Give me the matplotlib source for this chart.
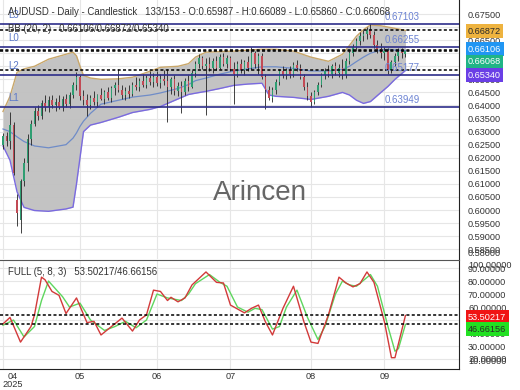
import matplotlib
matplotlib.use("Agg")
import matplotlib.pyplot as plt
import matplotlib.transforms as mtransforms
import numpy as np
import pandas as pd

plt.rcParams['font.family'] = ['Liberation Sans', 'DejaVu Sans']

# ── data ─────────────────────────────────────────────────────────────────────
dates = pd.bdate_range("2025-04-01", periods=116)

opens = [0.6250, 0.6285, 0.6265, 0.6325, 0.6040, 0.5960, 0.6110, 0.6180, 0.6270, 0.6330,
         0.6380, 0.6360, 0.6410, 0.6395, 0.6420, 0.6400, 0.6415, 0.6395, 0.6425, 0.6405,
         0.6440, 0.6480, 0.6510, 0.6435, 0.6420, 0.6400, 0.6430, 0.6415, 0.6440, 0.6425,
         0.6450, 0.6430, 0.6465, 0.6480, 0.6460, 0.6440, 0.6455, 0.6445, 0.6480, 0.6470,
         0.6495, 0.6480, 0.6505, 0.6490, 0.6510, 0.6485, 0.6500, 0.6495, 0.6470, 0.6500,
         0.6455, 0.6475, 0.6450, 0.6495, 0.6470, 0.6525, 0.6560, 0.6580, 0.6550, 0.6560,
         0.6545, 0.6570, 0.6545, 0.6585, 0.6560, 0.6580, 0.6540, 0.6520, 0.6560, 0.6535,
         0.6565, 0.6545, 0.6600, 0.6560, 0.6590, 0.6510, 0.6460, 0.6430, 0.6460, 0.6490,
         0.6530, 0.6515, 0.6535, 0.6520, 0.6555, 0.6545, 0.6510, 0.6470, 0.6435, 0.6415,
         0.6450, 0.6480, 0.6515, 0.6530, 0.6520, 0.6550, 0.6525, 0.6545, 0.6515, 0.6570,
         0.6600, 0.6625, 0.6645, 0.6665, 0.6675, 0.6690, 0.6670, 0.6630, 0.6615, 0.6600,
         0.6610, 0.6535, 0.6565, 0.6590, 0.6605, 0.65987]
highs = [0.6295, 0.6300, 0.6375, 0.6335, 0.6060, 0.6120, 0.6200, 0.6290, 0.6345, 0.6395,
         0.6400, 0.6420, 0.6440, 0.6435, 0.6440, 0.6430, 0.6440, 0.6435, 0.6445, 0.6450,
         0.6490, 0.6527, 0.6515, 0.6460, 0.6445, 0.6440, 0.6455, 0.6445, 0.6465, 0.6460,
         0.6470, 0.6475, 0.6490, 0.6538, 0.6480, 0.6470, 0.6480, 0.6490, 0.6510, 0.6505,
         0.6520, 0.6515, 0.6530, 0.6525, 0.6530, 0.6520, 0.6535, 0.6540, 0.6510, 0.6515,
         0.6490, 0.6495, 0.6505, 0.6515, 0.6535, 0.6570, 0.6596, 0.6590, 0.6580, 0.6585,
         0.6580, 0.6590, 0.6596, 0.6600, 0.6595, 0.6590, 0.6565, 0.6570, 0.6578, 0.6575,
         0.6590, 0.6623, 0.6610, 0.6600, 0.6600, 0.6520, 0.6475, 0.6470, 0.6500, 0.6540,
         0.6550, 0.6545, 0.6550, 0.6565, 0.6575, 0.6560, 0.6520, 0.6490, 0.6450, 0.6460,
         0.6490, 0.6525, 0.6545, 0.6555, 0.6560, 0.6565, 0.6560, 0.6578, 0.6580, 0.6610,
         0.6635, 0.6660, 0.6680, 0.6690, 0.6700, 0.6710, 0.6685, 0.6650, 0.6640, 0.6625,
         0.6620, 0.6575, 0.6600, 0.6620, 0.6620, 0.66089]
lows = [0.6235, 0.6245, 0.6232, 0.6135, 0.5940, 0.5913, 0.6090, 0.6150, 0.6250, 0.6320,
        0.6345, 0.6350, 0.6380, 0.6375, 0.6390, 0.6380, 0.6385, 0.6378, 0.6395, 0.6390,
        0.6430, 0.6460, 0.6420, 0.6400, 0.6358, 0.6385, 0.6400, 0.6395, 0.6420, 0.6405,
        0.6420, 0.6415, 0.6440, 0.6450, 0.6425, 0.6420, 0.6430, 0.6435, 0.6460, 0.6455,
        0.6470, 0.6465, 0.6480, 0.6470, 0.6475, 0.6465, 0.6480, 0.6335, 0.6445, 0.6440,
        0.6435, 0.6370, 0.6440, 0.6455, 0.6465, 0.6510, 0.6545, 0.6540, 0.6365, 0.6530,
        0.6525, 0.6535, 0.6540, 0.6550, 0.6545, 0.6530, 0.6404, 0.6510, 0.6525, 0.6515,
        0.6530, 0.6535, 0.6545, 0.6520, 0.6500, 0.6385, 0.6420, 0.6415, 0.6445, 0.6480,
        0.6505, 0.6500, 0.6505, 0.6510, 0.6530, 0.6500, 0.6460, 0.6420, 0.6396, 0.6405,
        0.6440, 0.6470, 0.6500, 0.6510, 0.6505, 0.6515, 0.6510, 0.6500, 0.6505, 0.6560,
        0.6590, 0.6610, 0.6630, 0.6645, 0.6655, 0.6660, 0.6620, 0.6600, 0.6580, 0.6575,
        0.6520, 0.6525, 0.6550, 0.6570, 0.6580, 0.65860]
closes = [0.6285, 0.6265, 0.6325, 0.6140, 0.5990, 0.6110, 0.6180, 0.6270, 0.6330, 0.6380,
          0.6360, 0.6410, 0.6395, 0.6420, 0.6400, 0.6415, 0.6395, 0.6425, 0.6405, 0.6440,
          0.6480, 0.6510, 0.6435, 0.6420, 0.6400, 0.6430, 0.6415, 0.6440, 0.6425, 0.6450,
          0.6430, 0.6465, 0.6480, 0.6460, 0.6440, 0.6455, 0.6445, 0.6480, 0.6470, 0.6495,
          0.6480, 0.6505, 0.6490, 0.6510, 0.6485, 0.6500, 0.6495, 0.6470, 0.6500, 0.6455,
          0.6475, 0.6450, 0.6495, 0.6470, 0.6525, 0.6560, 0.6580, 0.6550, 0.6560, 0.6545,
          0.6570, 0.6545, 0.6585, 0.6560, 0.6580, 0.6540, 0.6520, 0.6560, 0.6535, 0.6565,
          0.6545, 0.6600, 0.6560, 0.6590, 0.6510, 0.6460, 0.6430, 0.6460, 0.6490, 0.6530,
          0.6515, 0.6535, 0.6520, 0.6555, 0.6545, 0.6510, 0.6470, 0.6435, 0.6415, 0.6450,
          0.6480, 0.6515, 0.6530, 0.6520, 0.6550, 0.6525, 0.6545, 0.6515, 0.6570, 0.6600,
          0.6625, 0.6645, 0.6665, 0.6675, 0.6690, 0.6670, 0.6630, 0.6615, 0.6600, 0.6610,
          0.6535, 0.6565, 0.6590, 0.6605, 0.6599, 0.66068]

# Bollinger (20, 2) band values, sampled along the series (candle number -> value)
bb_idx = [0, 2, 4, 6, 9, 13, 18, 20, 21, 22, 23, 25, 28, 33, 37, 42, 45, 50, 53, 55,
          58, 62, 66, 70, 74, 76, 78, 83, 88, 93, 97, 99, 101, 103, 105, 108, 110, 112, 115]
bb_upper = [0.6377, 0.6435, 0.6527, 0.6540, 0.6550, 0.6577, 0.6596, 0.6604, 0.6590, 0.6550,
            0.6515, 0.6505, 0.6500, 0.6502, 0.6508, 0.6531, 0.6546, 0.6550, 0.6560, 0.6585,
            0.6604, 0.6606, 0.6608, 0.6612, 0.6615, 0.6615, 0.6615, 0.6608, 0.6585, 0.6569,
            0.6596, 0.6630, 0.6665, 0.6690, 0.6708, 0.6705, 0.6700, 0.6695, 0.66872]
bb_mid = [0.6310, 0.6300, 0.6280, 0.6262, 0.6245, 0.6238, 0.6250, 0.6275, 0.6295, 0.6320,
          0.6340, 0.6370, 0.6405, 0.6420, 0.6432, 0.6440, 0.6448, 0.6465, 0.6480, 0.6495,
          0.6505, 0.6520, 0.6532, 0.6540, 0.6548, 0.6548, 0.6548, 0.6542, 0.6532, 0.6532,
          0.6538, 0.6550, 0.6568, 0.6585, 0.6600, 0.6612, 0.6615, 0.6612, 0.66106]
bb_lower = [0.6245, 0.6190, 0.6070, 0.6010, 0.5998, 0.5995, 0.6004, 0.6011, 0.6100, 0.6200,
            0.6300, 0.6325, 0.6335, 0.6355, 0.6373, 0.6385, 0.6396, 0.6425, 0.6442, 0.6447,
            0.6454, 0.6465, 0.6477, 0.6482, 0.6485, 0.6440, 0.6435, 0.6431, 0.6423, 0.6435,
            0.6450, 0.6440, 0.6420, 0.6408, 0.6415, 0.6450, 0.6473, 0.6500, 0.65340]

# Full stochastic (5, 8, 3)
k_idx = [0, 2, 5, 8, 9, 11, 12, 14, 16, 18, 21, 24, 26, 28, 31, 34, 37, 39, 41, 43,
         45, 47, 48, 50, 52, 54, 58, 61, 63, 65, 69, 71, 73, 75, 77, 80, 83, 86, 88, 90,
         93, 96, 98, 100, 102, 104, 106, 109, 111, 112, 115]
k_vals = [47, 52, 33, 45, 54, 83, 81, 72, 69, 55, 67, 48, 49, 38.5, 45, 51.5, 41.5, 50, 54, 73,
          72, 65, 67.5, 64, 67, 77, 87, 79, 78.5, 61.5, 55.5, 59, 61.5, 48.5, 38.5, 59, 76, 48.5, 33, 32,
          54, 83, 78.5, 75.5, 78, 87, 79, 48.5, 21, 21, 53.50217]
d_idx = [0, 3, 6, 9, 11, 13, 15, 17, 19, 22, 25, 29, 32, 35, 38, 41, 44, 47, 49, 51,
         53, 55, 59, 62, 64, 67, 70, 72, 74, 77, 79, 81, 84, 87, 90, 92, 95, 97, 99, 101,
         105, 107, 110, 112, 113, 115]
d_vals = [46, 50, 37, 45, 65, 80, 74, 68, 60, 63, 50, 42, 45, 49, 44, 50, 70, 67, 66, 65,
          70, 78, 85, 79, 76, 60, 56, 59, 58, 43, 45, 60, 73, 52, 35, 45, 70, 80, 77, 76,
          85, 76, 45, 26, 28, 46.66156]

level_names = ["L3", "L0", "L2", "L1"]
level_values = [0.67103, 0.66255, 0.65177, 0.63949]

bb_last = [0.66106, 0.66872, 0.65340]
stoch_last = [53.50217, 46.66156]

W, H = 520, 390


def fx(px):
    return px / W


def fy(py):
    return 1 - py / H


fig = plt.figure(figsize=(W / 100, H / 100), dpi=100)
ax = fig.add_axes([0, fy(259), fx(459), 259 / H])
ax2 = fig.add_axes([0, fy(369), fx(459), 109 / H], sharex=ax)

x = np.arange(len(closes))
month_pos = [i for i in range(len(dates)) if i == 0 or dates[i].month != dates[i - 1].month]
month_lab = [dates[i].strftime("%m") for i in month_pos]
month_lab[0] = month_lab[0] + "\n" + dates[0].strftime("%Y")

grid_c = "#e6e6e6"
lab_c = "#333333"
tick_fs = 6.6
head_fs = 6.9

# ── price panel ─────────────────────────────────────────────────────────────
ax.fill_between(bb_idx, bb_lower, bb_upper, color="#c0c0c0", alpha=0.95, lw=0, zorder=1)
ax.plot(bb_idx, bb_upper, color="#c9a76a", lw=1.0, zorder=2)
ax.plot(bb_idx, bb_lower, color="#7a6ae0", lw=1.0, zorder=2)
ax.plot(bb_idx, bb_mid, color="#6f8cc8", lw=0.9, zorder=2)

up = np.array(closes) >= np.array(opens)
body_lo = np.minimum(opens, closes)
body_h = np.abs(np.array(closes) - np.array(opens))
ax.vlines(x, lows, highs, color="#222222", lw=0.6, zorder=3)
ax.bar(x, np.maximum(body_h, 0.0002), bottom=body_lo, width=0.55,
       color=np.where(up, "#2f9e72", "#c24a55"), lw=0, zorder=3.5)

for name, v in zip(level_names, level_values):
    ax.axhline(v, color="#2d2d8a", lw=1.2, zorder=4)
    ax.annotate(name, (0.017, v), xycoords=("axes fraction", "data"),
                xytext=(0, 6.5), textcoords="offset points", va="center", ha="left",
                fontsize=7, color="#5b78c8", zorder=6)
    ax.annotate(f"{v:.5f}", (0.839, v), xycoords=("axes fraction", "data"),
                xytext=(0, 5), textcoords="offset points", va="center", ha="left",
                fontsize=7, color="#6b82d2", zorder=6)

for v in bb_last + [closes[-1]]:
    ax.axhline(v, color="black", lw=1.1, ls=(0, (2, 1.5)), zorder=5)

ax.set_ylim(0.58125, 0.68036)
ax.set_xlim(-0.86, 130.3)
ax.set_yticks(np.arange(0.585, 0.6751, 0.005))
ax.yaxis.set_major_formatter(plt.FormatStrFormatter("%.5f"))
ax.yaxis.tick_right()
ax.tick_params(axis="y", length=0, pad=6.5, labelsize=tick_fs, labelcolor=lab_c)
ax.tick_params(axis="x", length=0, labelbottom=False)
ax.set_xticks(month_pos)
ax.grid(True, color=grid_c, lw=0.8, zorder=0)
ax.set_axisbelow(True)
for s in ("left", "top", "bottom"):
    ax.spines[s].set_visible(False)
ax.spines["right"].set_color("#222222")

# ── stochastic panel ────────────────────────────────────────────────────────
ax2.plot(d_idx, d_vals, color="#5ed65e", lw=1.0, zorder=3)
ax2.plot(k_idx, k_vals, color="#d23a3a", lw=1.0, zorder=4)
for v in stoch_last:
    ax2.axhline(v, color="black", lw=1.1, ls=(0, (2, 1.5)), zorder=5)
ax2.set_ylim(12.3, 96.2)
ax2.set_yticks(np.arange(20, 91, 10))
ax2.yaxis.set_major_formatter(plt.FormatStrFormatter("%.5f"))
ax2.yaxis.tick_right()
ax2.tick_params(axis="y", length=0, pad=6.5, labelsize=tick_fs, labelcolor=lab_c)
ax2.set_xticks(month_pos)
ax2.set_xticklabels(month_lab)
ax2.tick_params(axis="x", length=0, pad=2, labelsize=tick_fs, labelcolor=lab_c)
first = ax2.get_xticklabels()[0]
first.set_linespacing(0.9)
first.set_transform(first.get_transform() + mtransforms.ScaledTranslation(10 / 100, 0, fig.dpi_scale_trans))
ax2.grid(True, color=grid_c, lw=0.8, zorder=0)
ax2.set_axisbelow(True)
ax2.spines["left"].set_visible(False)
ax2.spines["top"].set_color("#555555")
ax2.spines["right"].set_color("#222222")
ax2.spines["bottom"].set_color("#222222")

# ── texts ───────────────────────────────────────────────────────────────────
fig.text(fx(8), fy(12), "AUDUSD - Daily - Candlestick   133/153 - O:%.5f - H:%.5f - L:%.5f - C:%.5f"
         % (opens[-1], highs[-1], lows[-1], closes[-1]),
         fontsize=head_fs, color=lab_c, va="center", ha="left")
fig.text(fx(8), fy(29), "BB (20, 2)   %.5f/%.5f/%.5f" % tuple(bb_last),
         fontsize=head_fs, color=lab_c, va="center", ha="left")
fig.text(fx(8), fy(272), "FULL (5, 8, 3)   %.5f/%.5f" % tuple(stoch_last),
         fontsize=head_fs, color=lab_c, va="center", ha="left")
fig.text(fx(260), fy(193), "Arincen", fontsize=20, color="#555555", alpha=0.9,
         ha="center", va="center")

# clamped edge labels of the axes
fig.text(fx(468), fy(254), "0.58000", fontsize=tick_fs, color=lab_c, va="center")
fig.text(fx(468), fy(265), "100.00000", fontsize=tick_fs, color=lab_c, va="center")
fig.text(fx(468), fy(362), "10.00000", fontsize=tick_fs, color=lab_c, va="center")

tags = [
    (31, "%.5f" % bb_last[1], "#eeb33f", "#2a2a2a"),
    (49, "%.5f" % bb_last[0], "#2196f3", "white"),
    (62, "%.5f" % closes[-1], "#1fb486", "white"),
    (75, "%.5f" % bb_last[2], "#6a3fe6", "white"),
    (317, "%.5f" % stoch_last[0], "#f01414", "white"),
    (329, "%.5f" % stoch_last[1], "#22e022", "#2a2a2a"),
]
for py, txt, fc, tc in tags:
    fig.text(fx(468), fy(py), txt, fontsize=tick_fs, color=tc, va="center", ha="left",
             bbox=dict(boxstyle="square,pad=0.25", fc=fc, ec="none"), zorder=10)

fig.savefig("out.png", dpi=100, facecolor="white")
